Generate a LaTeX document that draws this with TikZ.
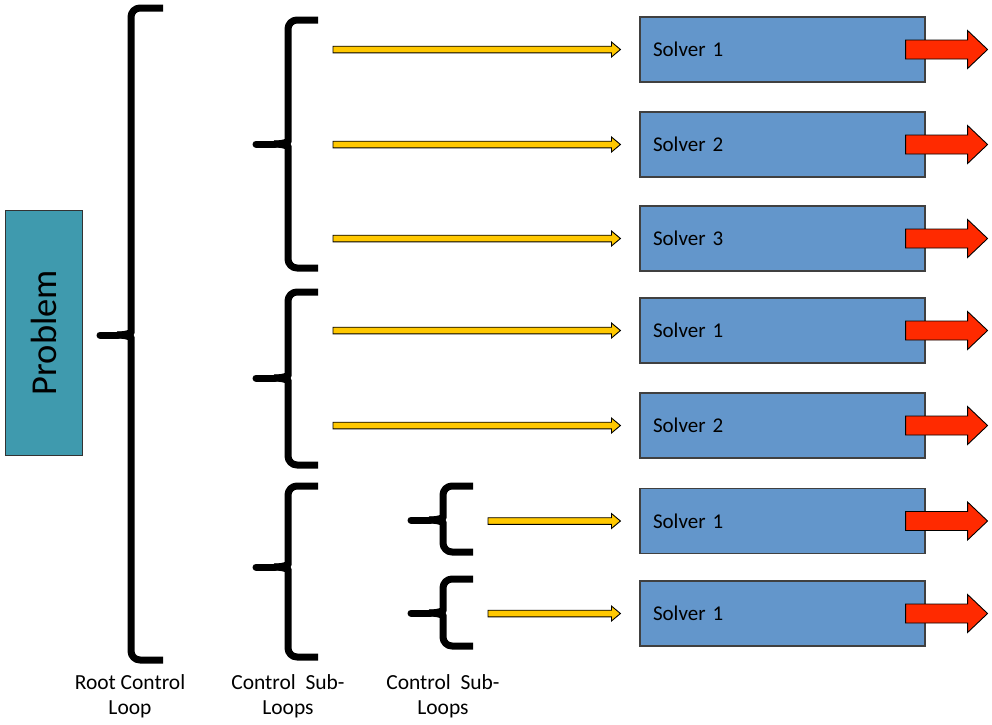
\documentclass[tikz,border=0pt]{standalone}
\usepackage{fontspec}
\setmainfont{Carlito}
\usetikzlibrary{calc}
\definecolor{probteal}{HTML}{3F9AAE}
\definecolor{solverblue}{HTML}{6396CB}
\definecolor{arrowyellow}{HTML}{FFC800}
\definecolor{arrowred}{HTML}{FF2A00}
\tikzset{
  brc/.style={line width=7pt, line cap=butt, line join=round, black},
  solver/.style={draw=black!75, line width=1.1pt, fill=solverblue, minimum width=285pt,
    minimum height=65pt, text width=259pt, inner xsep=13pt, align=left,
    font=\fontsize{21}{25}\selectfont},
  yarr/.style={draw=black, line width=0.9pt, fill=arrowyellow, line join=miter},
  rarr/.style={draw=black, line width=0.9pt, fill=arrowred, line join=miter},
  lbl/.style={align=center, font=\fontsize{21.5}{25}\selectfont}
}
% #1 x of vertical stroke, #2 top y, #3 bottom y, #4 mid y, #5 tip x, #6 end x
\newcommand{\mybrace}[6]{%
  \draw[brc] (#6,#2) [rounded corners=9pt] -- (#1,#2) -- (#1,#4-11) [sharp corners]
     .. controls (#1,#4-3) and (#1-3,#4) .. (#1-14,#4);
  \draw[brc] (#6,#3) [rounded corners=9pt] -- (#1,#3) -- (#1,#4+11) [sharp corners]
     .. controls (#1,#4+3) and (#1-3,#4) .. (#1-14,#4);
  \draw[brc, line cap=round] (#1-13,#4) -- (#5,#4);
}
% #1 style, #2 start, #3 end, #4 shaft half, #5 head half, #6 head length
\newcommand{\fatarrow}[6]{%
  \draw[#1] ($(#2)+(0,-#4)$) -- ($(#3)+(-#6,-#4)$) -- ($(#3)+(-#6,-#5)$) -- (#3)
    -- ($(#3)+(-#6,#5)$) -- ($(#3)+(-#6,#4)$) -- ($(#2)+(0,#4)$) -- cycle;
}
\begin{document}
\begin{tikzpicture}[x=1pt, y=-1pt]
\useasboundingbox (0,0) rectangle (992,724);

% Problem box
\node[draw=black!80, line width=1pt, fill=probteal, minimum width=77pt, minimum height=245pt,
  inner sep=0pt] (prob) at (43.5,332.5) {};
\node[rotate=90, font=\fontsize{36.5}{42}\selectfont] (probtxt) at (prob.center) {Problem};

% braces
\mybrace{131}{8}{660}{335}{100}{163}
\mybrace{288}{20}{268}{144}{256}{318}
\mybrace{288}{292}{465}{378}{256}{318}
\mybrace{288}{486}{657}{567}{256}{318}
\mybrace{443}{486}{552}{520}{411}{473}
\mybrace{443}{579}{646}{613}{411}{473}

% solvers
\node[solver] (s1) at (782.5,49.5) {Solver 1};
\node[solver] (s2) at (782.5,144.5) {Solver 2};
\node[solver] (s3) at (782.5,238.5) {Solver 3};
\node[solver] (s4) at (782.5,330.5) {Solver 1};
\node[solver] (s5) at (782.5,425.5) {Solver 2};
\node[solver] (s6) at (782.5,521) {Solver 1};
\node[solver] (s7) at (782.5,613.5) {Solver 1};

% yellow arrows
\coordinate (y1) at (333,49.5);
\coordinate (y2) at (333,144.5);
\coordinate (y3) at (333,238.5);
\coordinate (y4) at (333,330.5);
\coordinate (y5) at (333,425.5);
\coordinate (y6) at (488,521);
\coordinate (y7) at (488,613.5);
\foreach \i in {1,...,7}{
  \coordinate (ye\i) at ($(s\i.west)+(-19,0)$);
  \fatarrow{yarr}{y\i}{ye\i}{3.3}{7.5}{9}
  \coordinate (rs\i) at ($(s\i.east)+(-20,0)$);
  \coordinate (re\i) at ($(s\i.east)+(62,0)$);
  \fatarrow{rarr}{rs\i}{re\i}{9.5}{19}{20}
}

% labels
\node[lbl] (l1) at (130,696) {Root Control\\Loop};
\node[lbl] (l2) at (288,696) {Control~ Sub-\\Loops};
\node[lbl] (l3) at (443,696) {Control~ Sub-\\Loops};
\end{tikzpicture}
\end{document}
